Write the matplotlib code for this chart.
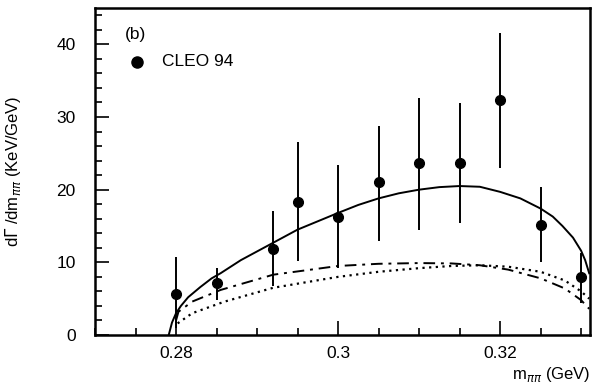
import matplotlib
matplotlib.use("Agg")
import matplotlib.pyplot as plt
from matplotlib.ticker import MultipleLocator

plt.rcParams['font.family'] = ['Liberation Sans', 'DejaVu Sans']

# CLEO 94 data points
m_data = [0.280, 0.285, 0.292, 0.295, 0.300, 0.305, 0.310, 0.315, 0.320, 0.325, 0.330]
rate = [5.7, 7.2, 11.9, 18.3, 16.3, 21.0, 23.7, 23.7, 32.3, 15.2, 8.0]
err_lo = [4.7, 2.4, 5.1, 8.1, 7.1, 8.0, 9.2, 8.3, 9.3, 5.1, 3.6]
err_hi = [5.1, 2.0, 5.1, 8.2, 7.1, 7.8, 8.9, 8.2, 9.3, 5.1, 3.3]

# solid curve
m_solid = [0.2791, 0.2795, 0.2800, 0.2806, 0.2815, 0.2830, 0.2844, 0.2855, 0.2880, 0.2920,
           0.2950, 0.3000, 0.3025, 0.3050, 0.3075, 0.3100, 0.3125, 0.3150, 0.3175, 0.3200,
           0.3225, 0.3250, 0.3265, 0.3277, 0.3290, 0.3300, 0.3305, 0.3310]
g_solid = [0.0, 1.7, 3.0, 4.0, 5.2, 6.6, 7.8, 8.5, 10.3, 12.7,
           14.5, 16.8, 17.9, 18.8, 19.5, 20.0, 20.35, 20.5, 20.4, 19.7,
           18.8, 17.4, 16.3, 15.0, 13.4, 11.6, 10.3, 8.5]

# dash-dot curve
m_dashdot = [0.2800, 0.2803, 0.2820, 0.2855, 0.2920, 0.3000, 0.3050, 0.3100, 0.3140,
             0.3175, 0.3210, 0.3250, 0.3280, 0.3300, 0.3310]
g_dashdot = [2.0, 3.2, 4.6, 6.2, 8.3, 9.5, 9.8, 9.9, 9.85, 9.6, 9.0, 7.8, 6.4, 4.8, 3.6]

# dotted curve
m_dotted = [0.2802, 0.2820, 0.2860, 0.2920, 0.3000, 0.3050, 0.3100, 0.3140, 0.3175,
            0.3210, 0.3250, 0.3280, 0.3300, 0.3310]
g_dotted = [1.6, 3.0, 4.6, 6.5, 8.0, 8.7, 9.2, 9.5, 9.6, 9.4, 8.7, 7.5, 6.0, 5.0]

fig = plt.figure(figsize=(5.99, 3.90), dpi=100)
ax = fig.add_axes([0.1586, 0.141, 0.8264, 0.8385])

ax.plot(m_solid, g_solid, color='black', lw=1.4, ls='-')
ax.plot(m_dashdot, g_dashdot, color='black', lw=1.4, ls=(0, (6, 3, 1.5, 3)))
ax.plot(m_dotted, g_dotted, color='black', lw=1.6, ls=(0, (1, 2)))

ax.errorbar(m_data, rate, yerr=[err_lo, err_hi], fmt='o', color='black',
            ms=7, elinewidth=1.4, capsize=0)

ax.set_xlim(0.27, 0.3311)
ax.set_ylim(0, 45)
ax.xaxis.set_minor_locator(MultipleLocator(0.005))
ax.yaxis.set_major_locator(MultipleLocator(10))
ax.yaxis.set_minor_locator(MultipleLocator(2))
ax.set_xticks([0.28, 0.30, 0.32])
ax.set_xticklabels(['0.28', '0.3', '0.32'])
ax.tick_params(which='both', direction='in', labelsize=12.5, width=1.2)
ax.tick_params(which='major', length=10)
ax.tick_params(which='minor', length=5)
ax.tick_params(axis='x', pad=8)
ax.tick_params(axis='y', pad=14)
for s in ax.spines.values():
    s.set_linewidth(1.8)

ax.set_ylabel(r'd$\Gamma$ /dm$_{\pi\pi}$ (KeV/GeV)', fontsize=12)
ax.yaxis.set_label_coords(-0.145, 0.5)
fig.text(0.985, 1 - 375 / 390, r'm$_{\pi\pi}$ (GeV)', fontsize=12, ha='right', va='center')

ax.text(0.06, 0.905, '(b)', transform=ax.transAxes, fontsize=12.5)
ax.plot([0.085], [0.835], 'o', color='black', ms=8, transform=ax.transAxes)
ax.text(0.135, 0.835, 'CLEO 94', transform=ax.transAxes, fontsize=12.5, va='center')

fig.savefig('out.png', dpi=100)
